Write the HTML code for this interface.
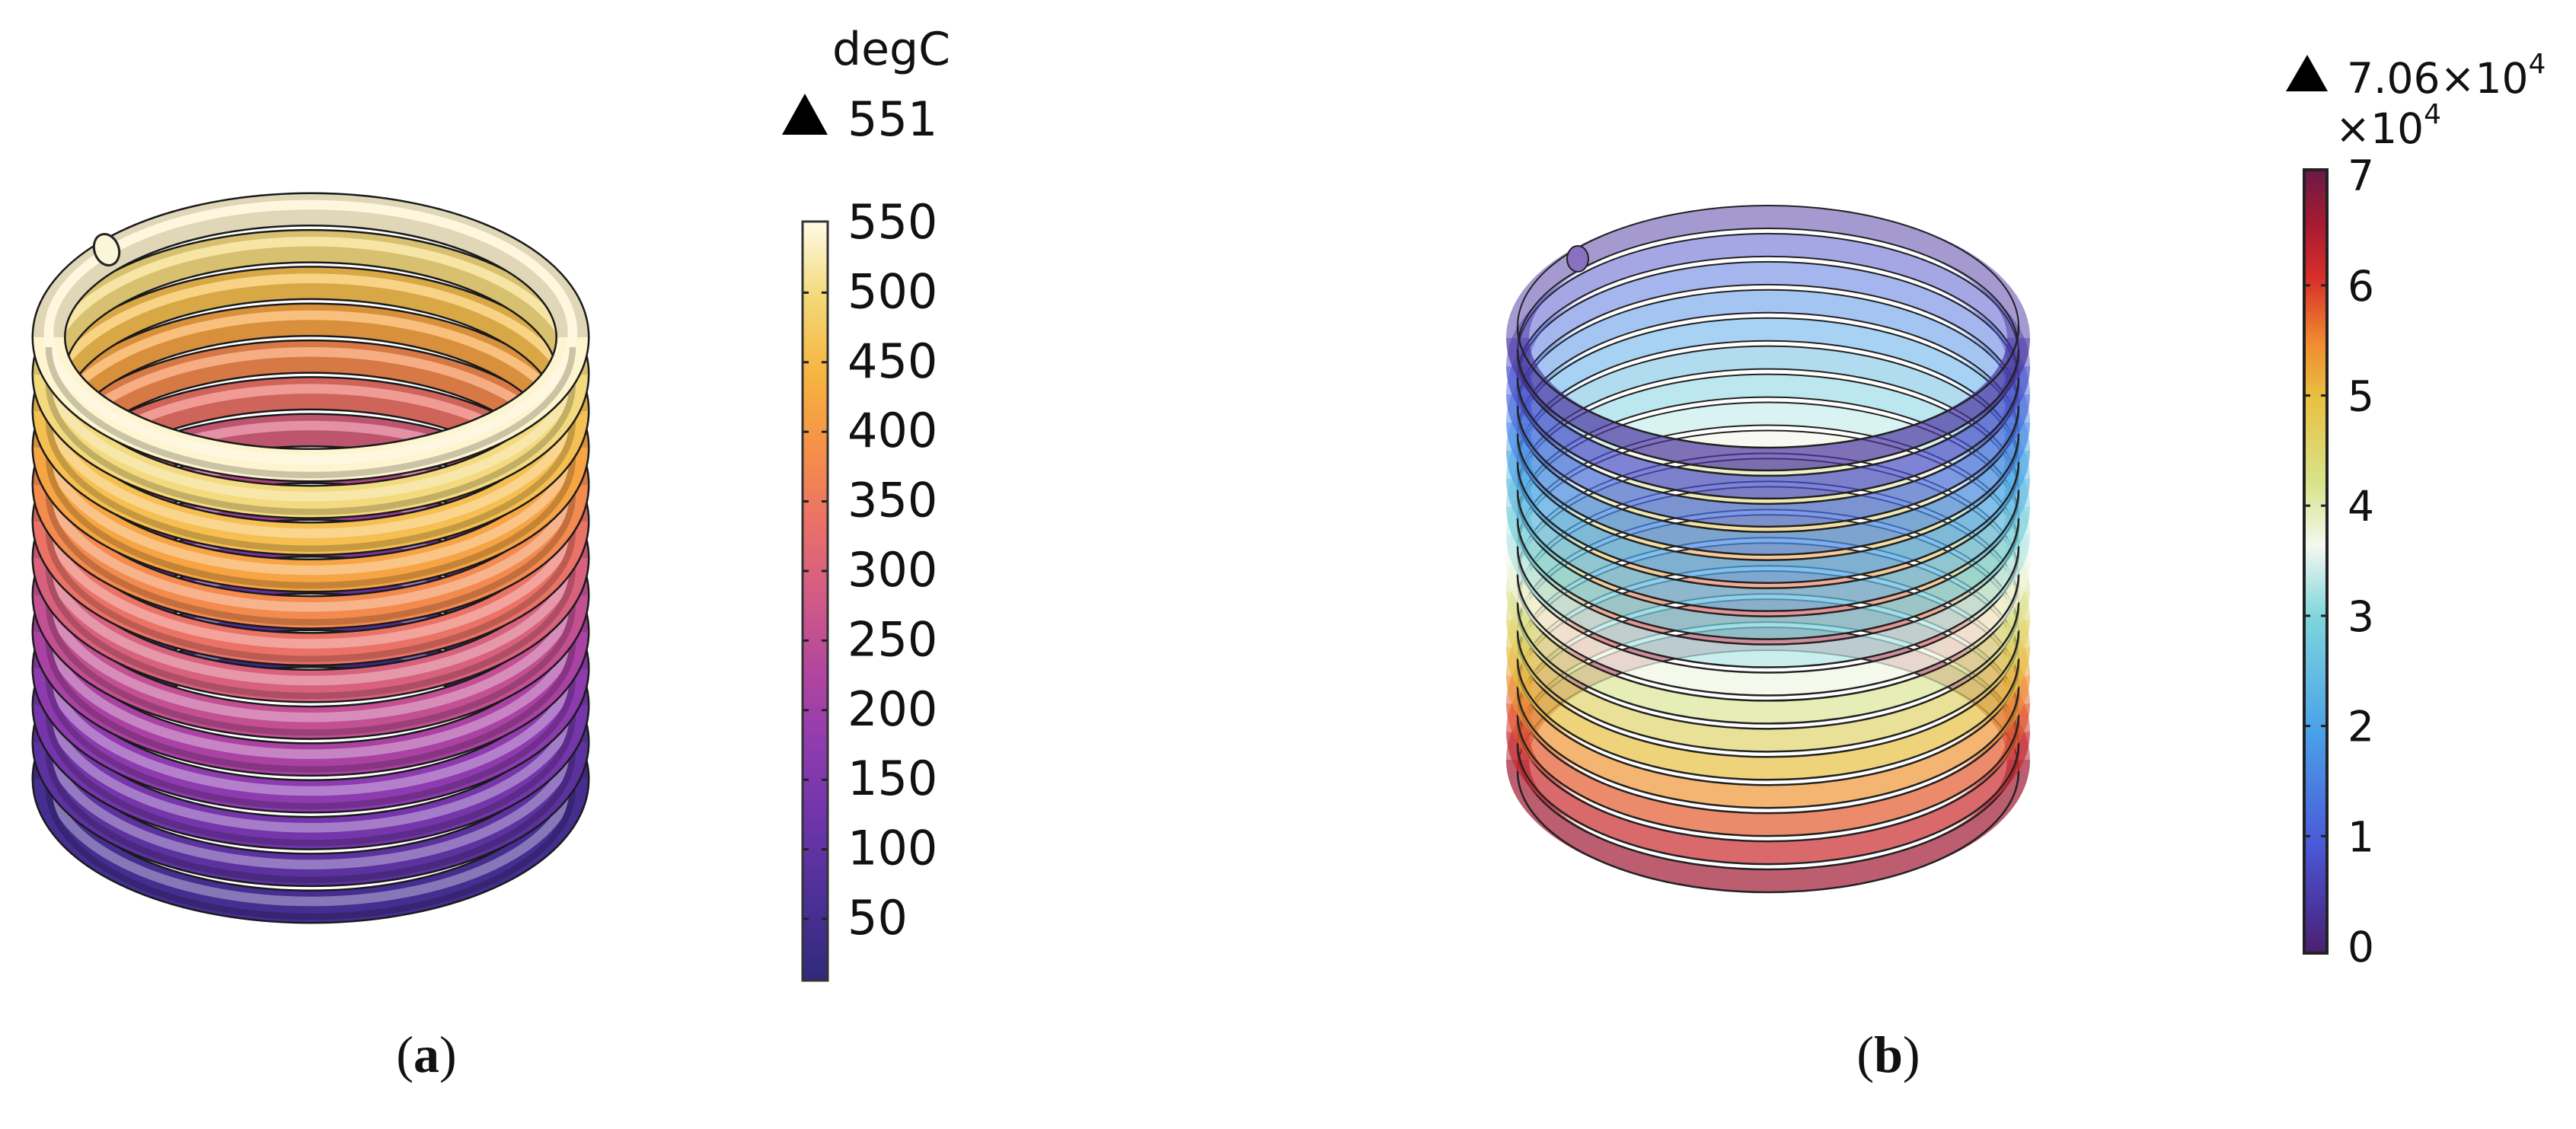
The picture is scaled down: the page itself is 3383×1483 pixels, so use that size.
<!DOCTYPE html>
<html><head><meta charset="utf-8">
<style>
html,body{margin:0;padding:0;background:#fff;}
svg{display:block;}
text{font-family:"DejaVu Sans","Liberation Sans",sans-serif;fill:#111;}
.lab{font-family:"Liberation Serif",serif;font-size:68px;}
</style></head>
<body>
<svg id="s" width="3383" height="1483" viewBox="0 0 3383 1483" xmlns="http://www.w3.org/2000/svg">
<defs>
<linearGradient id="ga" x1="0" y1="1" x2="0" y2="0">
<stop offset="0" stop-color="#2f2a7a"/><stop offset="0.1" stop-color="#4a2f95"/>
<stop offset="0.2" stop-color="#6a34a8"/><stop offset="0.3" stop-color="#8b3bb0"/>
<stop offset="0.4" stop-color="#b044a0"/><stop offset="0.5" stop-color="#d05a88"/>
<stop offset="0.6" stop-color="#e97068"/><stop offset="0.7" stop-color="#f59048"/>
<stop offset="0.8" stop-color="#f6b540"/><stop offset="0.9" stop-color="#f3d878"/>
<stop offset="1" stop-color="#fffbe6"/>
</linearGradient>
<linearGradient id="gb" x1="0" y1="1" x2="0" y2="0">
<stop offset="0" stop-color="#4b1f6f"/><stop offset="0.07" stop-color="#4a3aa8"/>
<stop offset="0.14" stop-color="#4a5ad8"/><stop offset="0.28" stop-color="#4aa0e8"/>
<stop offset="0.43" stop-color="#7fd6dc"/><stop offset="0.52" stop-color="#f4f8f0"/>
<stop offset="0.6" stop-color="#d8e38a"/><stop offset="0.71" stop-color="#e8c040"/>
<stop offset="0.78" stop-color="#f08a30"/><stop offset="0.86" stop-color="#d8302a"/>
<stop offset="0.93" stop-color="#a81a30"/><stop offset="1" stop-color="#6a1a48"/>
</linearGradient>
</defs>
<g id="coilA"></g>
<g id="coilB"></g>

<!-- colorbar a -->
<text x="1093" y="85" font-size="60">degC</text>
<polygon points="1027,177 1057,123 1087,177" fill="#000"/>
<text x="1113" y="178" font-size="62">551</text>
<rect x="1054" y="291" width="33" height="997" fill="url(#ga)" stroke="#333" stroke-width="3"/>
<g id="ticksA"></g>

<!-- colorbar b -->
<polygon points="3002,120 3030,72 3057,120" fill="#000"/>
<text x="3082" y="122" font-size="55">7.06×10<tspan font-size="36" dy="-26">4</tspan></text>
<text x="3067" y="188" font-size="55">×10<tspan font-size="36" dy="-26">4</tspan></text>
<rect x="3026" y="223" width="30" height="1029" fill="url(#gb)" stroke="#222" stroke-width="4"/>
<g id="ticksB"></g>

<text class="lab" x="560" y="1408" text-anchor="middle">(<tspan font-weight="bold">a</tspan>)</text>
<text class="lab" x="2480" y="1408" text-anchor="middle">(<tspan font-weight="bold">b</tspan>)</text>
</svg>
<script>
const NS="http://www.w3.org/2000/svg";
function el(p,tag,a){const e=document.createElementNS(NS,tag);for(const k in a)e.setAttribute(k,a[k]);p.appendChild(e);return e;}
function hex(h){return [parseInt(h.substr(1,2),16),parseInt(h.substr(3,2),16),parseInt(h.substr(5,2),16)];}
function cmap(stops,v){for(let i=1;i<stops.length;i++){if(v<=stops[i][0]){const a=stops[i-1],b=stops[i];const t=(v-a[0])/(b[0]-a[0]);const c1=hex(a[1]),c2=hex(b[1]);return c1.map((x,j)=>Math.round(x+(c2[j]-x)*t));}}return hex(stops[stops.length-1][1]);}
function rgb(c){return "rgb("+c.join(",")+")";}
function mix(c,d,t){return c.map((x,j)=>Math.round(x+(d[j]-x)*t));}
const SA=[[0,"#2f2a7a"],[0.1,"#4a2f95"],[0.2,"#6a34a8"],[0.3,"#8b3bb0"],[0.4,"#b044a0"],[0.5,"#d05a88"],[0.6,"#e97068"],[0.7,"#f59048"],[0.8,"#f6b540"],[0.9,"#f3d878"],[1,"#fffbe6"]];
const SB=[[0,"#4b1f6f"],[0.07,"#4a3aa8"],[0.14,"#4a5ad8"],[0.28,"#4aa0e8"],[0.43,"#7fd6dc"],[0.52,"#f4f8f0"],[0.6,"#d8e38a"],[0.71,"#e8c040"],[0.78,"#f08a30"],[0.86,"#d8302a"],[0.93,"#a81a30"],[1,"#6a1a48"]];
function half(cx,cy,rx,ry,front){return "M"+(cx-rx)+","+cy+" A"+rx+","+ry+" 0 0 "+(front?0:1)+" "+(cx+rx)+","+cy;}

// coil A
(function(){
 const g=document.getElementById("coilA");
 const cx=408,rx=344,ry=168,w=42,top=443,bot=1023,n=13;
 const turns=[];
 for(let i=0;i<n;i++){const t=i/(n-1);turns.push({cy:top+(bot-top)*t,c:cmap(SA,0.98-0.9*t)});}
 // back halves bottom->top
 for(let i=n-1;i>=0;i--){const T=turns[i];const d=half(cx,T.cy,rx,ry,false);
  el(g,"path",{d:d,fill:"none",stroke:"#1a1a1a","stroke-width":w+3});
  el(g,"path",{d:d,fill:"none",stroke:rgb(mix(T.c,[0,0,0],0.12)),"stroke-width":w-2});
  el(g,"path",{d:d,fill:"none",stroke:rgb(mix(T.c,[255,255,255],0.3)),"stroke-width":w*0.3,transform:"translate(0,-6)"});
 }
 for(let i=n-1;i>=0;i--){const T=turns[i];const d=half(cx,T.cy,rx,ry,true);
  el(g,"path",{d:d,fill:"none",stroke:"#1a1a1a","stroke-width":w+3});
  el(g,"path",{d:d,fill:"none",stroke:rgb(T.c),"stroke-width":w-2});
  el(g,"path",{d:d,fill:"none",stroke:rgb(mix(T.c,[255,255,255],0.35)),"stroke-width":w*0.3,transform:"translate(0,-7)"});
  el(g,"path",{d:d,fill:"none",stroke:rgb(mix(T.c,[0,0,0],0.2)),"stroke-width":w*0.2,transform:"translate(0,13)"});
 }
 el(g,"ellipse",{cx:140,cy:328,rx:16,ry:21,fill:"#fbf6d8",stroke:"#222","stroke-width":3,transform:"rotate(-20 140 328)"});
})();

// coil B
(function(){
 const g=document.getElementById("coilB");
 const cx=2322,rx=329,ry=159,w=30,top=444,bot=998,n=16;
 const turns=[];
 for(let i=0;i<n;i++){const t=i/(n-1);turns.push({cy:top+(bot-top)*t,c:cmap(SB,0.06+0.88*t)});}
 for(let i=n-1;i>=0;i--){const T=turns[i];const d=half(cx,T.cy,rx,ry,false);
  el(g,"path",{d:d,fill:"none",stroke:rgb(T.c),"stroke-width":w,"stroke-opacity":0.5});
  el(g,"path",{d:half(cx,T.cy-w/2,rx,ry,false),fill:"none",stroke:"#222","stroke-width":2});
  el(g,"path",{d:half(cx,T.cy+w/2,rx,ry,false),fill:"none",stroke:"#222","stroke-width":2});
 }
 for(let i=n-1;i>=0;i--){const T=turns[i];const d=half(cx,T.cy,rx,ry,true);
  el(g,"path",{d:d,fill:"none",stroke:rgb(T.c),"stroke-width":w,"stroke-opacity":0.7});
  el(g,"path",{d:half(cx,T.cy-w/2,rx,ry,true),fill:"none",stroke:"#222","stroke-width":2.5});
  el(g,"path",{d:half(cx,T.cy+w/2,rx,ry,true),fill:"none",stroke:"#222","stroke-width":2.5});
 }
 el(g,"ellipse",{cx:2072,cy:340,rx:14,ry:17,fill:"#8a70c0",stroke:"#222","stroke-width":2});
})();

// ticks A
(function(){
 const g=document.getElementById("ticksA");
 const vals=[550,500,450,400,350,300,250,200,150,100,50];
 vals.forEach((v,k)=>{const by=313+91.4*k;
  el(g,"text",{x:1113,y:by,"font-size":62}).textContent=String(v);
  if(k>0){el(g,"line",{x1:1055,x2:1062,y1:by-20,y2:by-20,stroke:"#222","stroke-width":3});
  el(g,"line",{x1:1079,x2:1086,y1:by-20,y2:by-20,stroke:"#222","stroke-width":3});}
 });
})();
(function(){
 const g=document.getElementById("ticksB");
 for(let v=7;v>=0;v--){const by=1263-144.7*v;
  el(g,"text",{x:3083,y:by,"font-size":55}).textContent=String(v);
  if(v>0&&v<7){el(g,"line",{x1:3027,x2:3034,y1:by-20,y2:by-20,stroke:"#222","stroke-width":3});
  el(g,"line",{x1:3048,x2:3055,y1:by-20,y2:by-20,stroke:"#222","stroke-width":3});}
 }
})();
</script>
</body></html>
